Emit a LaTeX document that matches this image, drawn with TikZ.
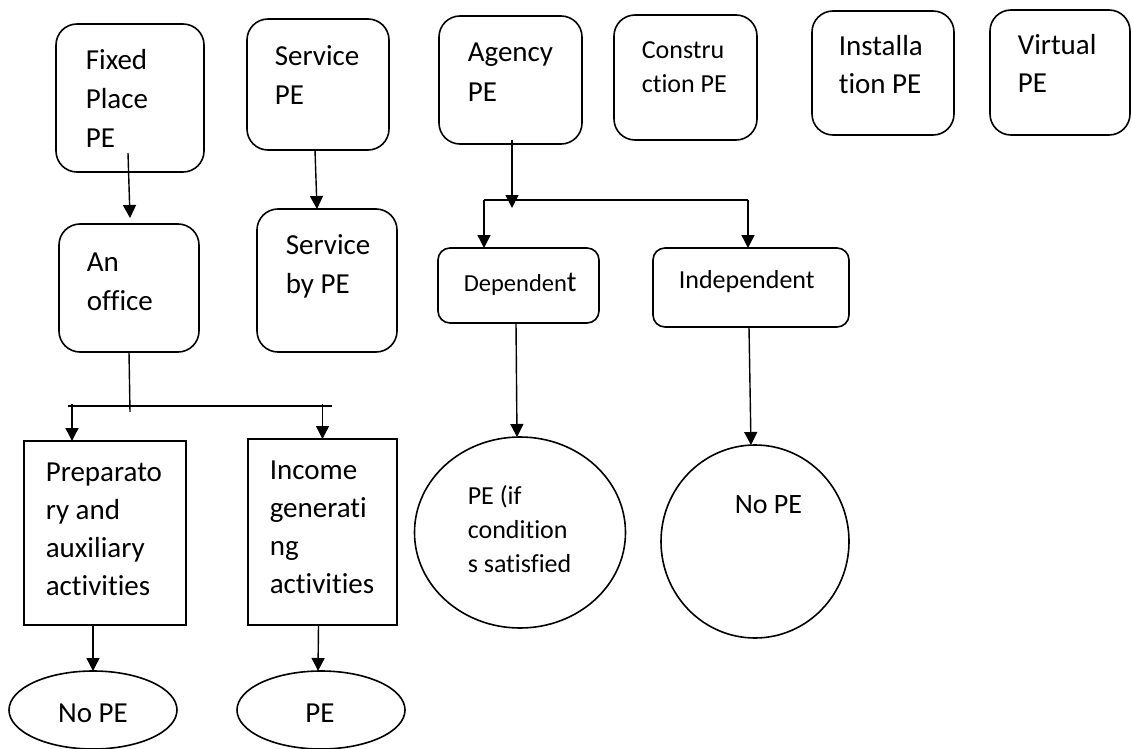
\documentclass[tikz,border=0pt]{standalone}
\usepackage{fontspec}
\setmainfont{Carlito}[Ligatures=NoCommon]
\usetikzlibrary{arrows.meta,shapes.geometric,calc}
\begin{document}
\begin{tikzpicture}[x=1pt,y=-1pt,
  line width=1.6pt,
  rbox/.style={draw, rounded corners=21pt, inner sep=0pt, outer sep=0pt},
  sbox/.style={draw, rounded corners=12pt, inner sep=0pt, outer sep=0pt},
  pbox/.style={draw, inner sep=0pt, outer sep=0pt},
  oval/.style={draw, ellipse, inner sep=0pt, outer sep=0pt},
  big/.style={font=\fontsize{29}{39}\selectfont, inner sep=0pt, anchor=base west},
  mid/.style={font=\fontsize{26}{34}\selectfont, inner sep=0pt, anchor=base west},
  arr/.style={line width=1.4pt, -{Triangle[length=13pt,width=13pt]}},
  ln/.style={line width=1.4pt}]
\useasboundingbox (0,0) rectangle (1132,749);
% ---- boxes
\node[rbox, minimum width=148pt, minimum height=148pt] (fp) at (130,98) {};
\node[rbox, minimum width=142pt, minimum height=131pt] (sp) at (318,84.5) {};
\node[rbox, minimum width=140pt, minimum height=128pt] (off) at (129,288) {};
\node[rbox, minimum width=140pt, minimum height=143pt] (sbp) at (327,280.5) {};
\node[pbox, minimum width=162pt, minimum height=184pt] (prep) at (105,533) {};
\node[pbox, minimum width=149pt, minimum height=186pt] (inc) at (322.5,532) {};
\node[oval, minimum width=168pt, minimum height=78pt] (np1) at (93,710) {};
\node[oval, minimum width=168pt, minimum height=78pt] (pe1) at (321,710) {};
\node[rbox, minimum width=143pt, minimum height=128pt] (ag) at (510.5,80) {};
\node[rbox, minimum width=143pt, minimum height=125pt] (con) at (685.5,77.5) {};
\node[rbox, minimum width=142pt, minimum height=124pt] (ins) at (883,73) {};
\node[rbox, minimum width=140pt, minimum height=125pt] (vir) at (1060,72.5) {};
\node[sbox, minimum width=161pt, minimum height=75pt] (dep) at (518.5,285.5) {};
\node[sbox, minimum width=196pt, minimum height=79pt] (ind) at (751,287.5) {};
\node[oval, minimum width=211pt, minimum height=191pt] (pec) at (520,532.5) {};
\node[oval, minimum width=188pt, minimum height=193pt] (np2) at (755,541.5) {};
% ---- texts
\node[big] (tfp) at (85,70) {\vtop{\hbox{Fixed}\hbox{Place}\hbox{PE}}};
\node[big] (tsp) at (274,66) {\vtop{\hbox{Service}\hbox{PE}}};
\node[big] (toff) at (86,271) {\vtop{\hbox{An}\hbox{office}}};
\node[big] (tsbp) at (285,254) {\vtop{\hbox{Service}\hbox{by PE}}};
\node[big, font=\fontsize{29}{38}\selectfont] (tprep) at (45,481) {\vtop{\hbox{Preparato}\hbox{ry and}\hbox{auxiliary}\hbox{activities}}};
\node[big, font=\fontsize{29}{38}\selectfont] (tinc) at (269,479) {\vtop{\hbox{Income}\hbox{generati}\hbox{ng}\hbox{activities}}};
\node[big, anchor=base] (tnp1) at (93,722) {No PE};
\node[big, anchor=base] (tpe1) at (320,722) {PE};
\node[big, font=\fontsize{29}{40}\selectfont] (tag) at (467,62) {\vtop{\hbox{Agency}\hbox{PE}}};
\node[mid] (tcon) at (641,59) {\vtop{\hbox{Constru}\hbox{ction PE}}};
\node[big, font=\fontsize{29}{38}\selectfont] (tins) at (838,56) {\vtop{\hbox{Installa}\hbox{tion PE}}};
\node[big, font=\fontsize{29}{38}\selectfont] (tvir) at (1017,55) {\vtop{\hbox{Virtual}\hbox{PE}}};
\node[mid, font=\fontsize{24.5}{30}\selectfont] (tdep) at (463,291) {Dependen{\fontsize{29}{35}\selectfont t}};
\node[mid] (tind) at (678,288) {Independent};
\node[mid] (tpec) at (467,504) {\vtop{\hbox{PE (if}\hbox{condition}\hbox{s satisfied}}};
\node[big, font=\fontsize{28}{34}\selectfont] (tnp2) at (734,513) {No PE};
% ---- connectors, left part
\draw[arr] ($(fp.south)+(-2,-19)$) -- ($(off.north)+(1,-6)$);
\draw[arr] ($(sp.south)+(-3,0)$) -- ($(sbp.north)+(-10,0)$);
\coordinate (ob) at (130,412);
\coordinate (hl) at (68,406);
\coordinate (hr) at (332,406);
\draw[ln] (off.south) -- (ob);
\draw[ln] (hl) -- (hr);
\draw[arr] ($(prep.north)+(-33,-37)$) -- ($(prep.north)+(-33,0)$);
\draw[arr] ($(inc.north)+(0,-35)$) -- (inc.north);
\draw[arr] ($(prep.south)+(-12,0)$) -- (np1.north);
\draw[arr] ($(inc.south)+(-4,0)$) -- ($(pe1.north)+(-3,0)$);
% ---- connectors, agency part
\coordinate (jn) at (512,208);
\coordinate (jl) at (484,200);
\coordinate (jr) at (748,200);
\draw[arr] ($(ag.south)+(1.5,-4)$) -- (jn);
\draw[ln] (jl) -- (jr);
\draw[arr] (jl) -- ($(dep.north)+(-34.5,0)$);
\draw[arr] (jr) -- ($(ind.north)+(-3,0)$);
\draw[arr] ($(dep.south)+(-2.5,0)$) -- ($(pec.north)+(-3,0)$);
\draw[arr] ($(ind.south)+(-2,0)$) -- ($(np2.north)+(-4,0)$);
\end{tikzpicture}
\end{document}
